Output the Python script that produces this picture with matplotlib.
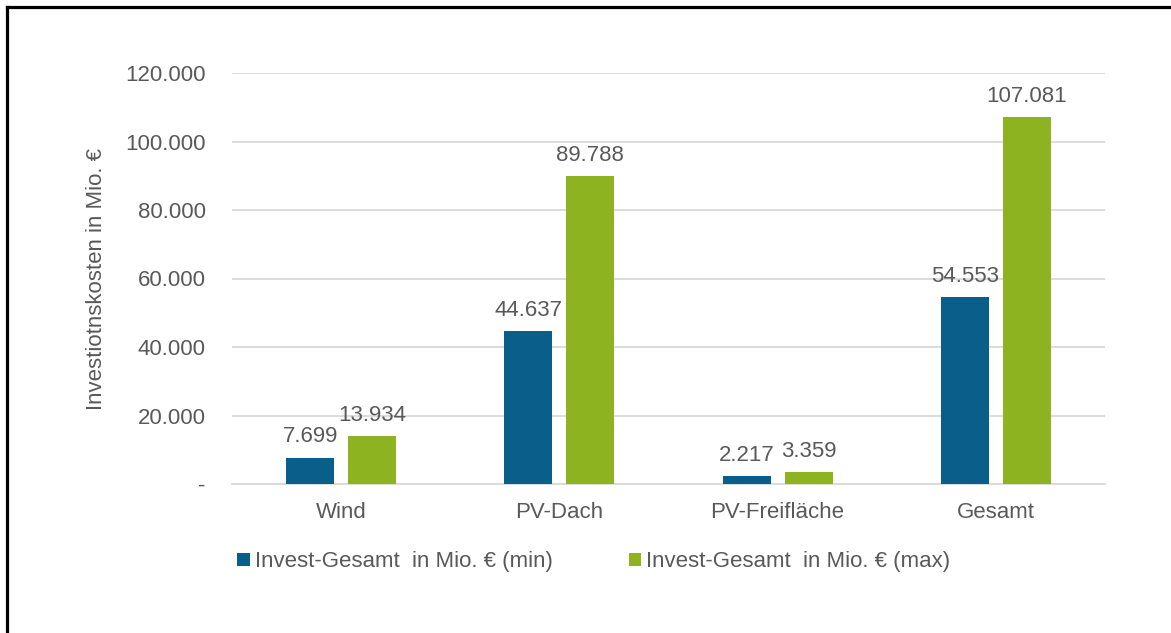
import numpy as np
import matplotlib
matplotlib.use("Agg")
import matplotlib.pyplot as plt
from matplotlib.lines import Line2D
from matplotlib.ticker import FuncFormatter

plt.rcParams['font.family'] = ['Liberation Sans', 'DejaVu Sans']

# daten
kategorien = ['Wind', 'PV-Dach', 'PV-Freifläche', 'Gesamt']
invest_min = [7699, 44637, 2217, 54553]
invest_max = [13934, 89788, 3359, 107081]
serien_namen = ['Invest-Gesamt  in Mio. € (min)', 'Invest-Gesamt  in Mio. € (max)']
y_ticks = [0, 20000, 40000, 60000, 80000, 100000, 120000]

blau = '#0a5f8a'
gruen = '#8db321'
grau = '#595959'

def de_format(v, pos=None):
    if v == 0:
        return '-'
    return '{:,.0f}'.format(v).replace(',', '.')

fig = plt.figure(figsize=(11.71, 6.33), dpi=100)
ax = fig.add_axes([232/1171, 1-484/633, (1105-232)/1171, (484-73)/633])

x = np.arange(len(kategorien))
breite = 0.22
versatz = 0.142

b1 = ax.bar(x - versatz, invest_min, breite, color=blau, label=serien_namen[0], zorder=3)
b2 = ax.bar(x + versatz, invest_max, breite, color=gruen, label=serien_namen[1], zorder=3)

for balken in (b1, b2):
    for r in balken:
        h = r.get_height()
        ax.annotate(de_format(h), (r.get_x() + r.get_width()/2, h),
                    xytext=(0, 7.5), textcoords='offset points',
                    ha='center', va='bottom', fontsize=16, color=grau)

ax.set_xlim(-0.5, 3.5)
ax.set_ylim(0, 120000)
ax.set_yticks(y_ticks)
ax.yaxis.set_major_formatter(FuncFormatter(de_format))
ax.set_xticks(x)
ax.set_xticklabels(kategorien)
ax.tick_params(axis='y', length=0, pad=19, labelsize=16, labelcolor=grau)
ax.tick_params(axis='x', length=0, pad=13, labelsize=16, labelcolor=grau)
ax.grid(axis='y', color='#d9d9d9', linewidth=1.3, zorder=0)
for s in ['top', 'right', 'left']:
    ax.spines[s].set_visible(False)
ax.spines['bottom'].set_color('#d9d9d9')
ax.spines['bottom'].set_linewidth(1.3)

ax.set_ylabel('Investiotnskosten in Mio. €', fontsize=16, color=grau, labelpad=13)

fig.legend(loc='center', bbox_to_anchor=(594/1171, 1-562/633), ncol=2, frameon=False,
           fontsize=16, labelcolor=grau, handlelength=0.55, handleheight=0.55,
           handletextpad=0.25, columnspacing=3.4)

# rahmen oben und links
fig.add_artist(Line2D([7/1171, 7/1171], [0, 1-7/633], color='black', linewidth=2.3, transform=fig.transFigure))
fig.add_artist(Line2D([7/1171, 1], [1-7/633, 1-7/633], color='black', linewidth=2.3, transform=fig.transFigure))

fig.savefig('out.png', dpi=100)
